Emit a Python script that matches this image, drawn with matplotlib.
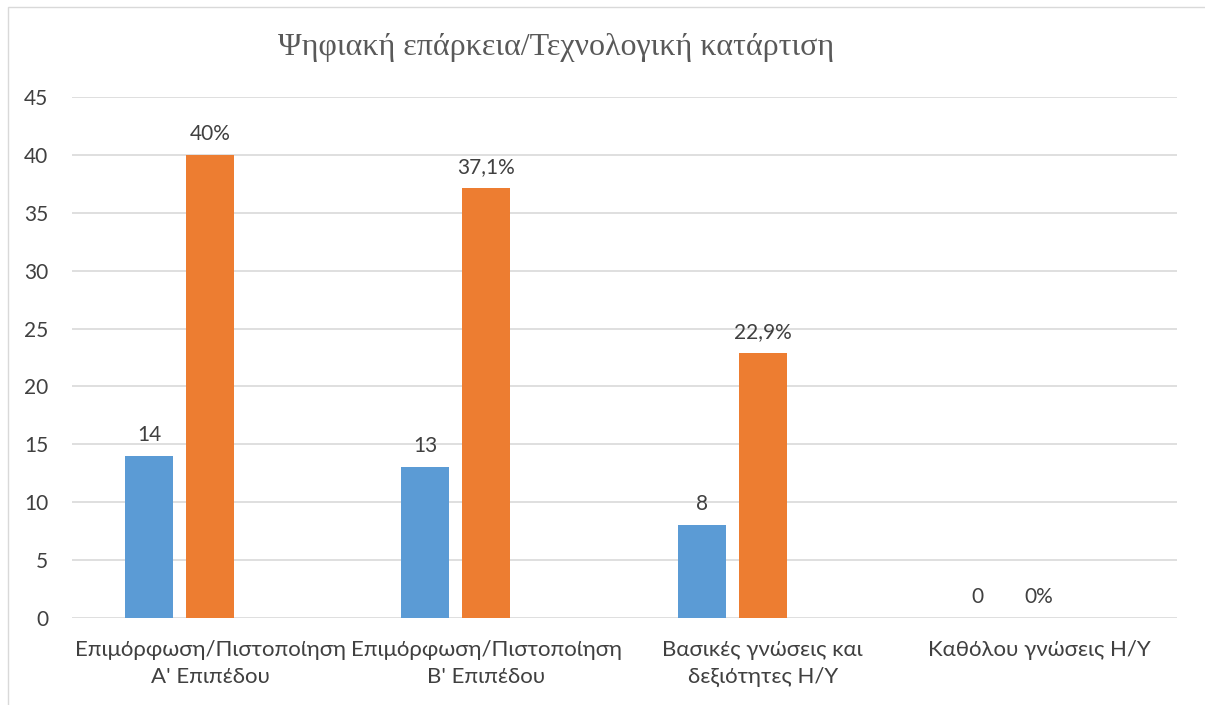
import numpy as np
import matplotlib
matplotlib.use("Agg")
import matplotlib.pyplot as plt
from matplotlib.patches import Rectangle

# chart data
categories = ["Επιμόρφωση/Πιστοποίηση\nΑ' Επιπέδου",
              "Επιμόρφωση/Πιστοποίηση\nΒ' Επιπέδου",
              "Βασικές γνώσεις και\nδεξιότητες Η/Υ",
              "Καθόλου γνώσεις Η/Υ"]
counts = [14, 13, 8, 0]
percents = [40, 37.1, 22.9, 0]
count_labels = ["14", "13", "8", "0"]
percent_labels = ["40%", "37,1%", "22,9%", "0%"]
yticks = [0, 5, 10, 15, 20, 25, 30, 35, 40, 45]

W, H = 1205, 705
plt.rcParams['font.family'] = ['Lato', 'DejaVu Sans']
fig = plt.figure(figsize=(W / 100, H / 100), dpi=100)

# light outer frame (top and left visible)
fig.patches.append(Rectangle((8 / W, -0.1), 1.2, 1 - 7 / H + 0.1,
                             transform=fig.transFigure, fill=False,
                             edgecolor="#d9d9d9", linewidth=1))

ax = fig.add_axes([72 / W, 1 - 618 / H, (1177 - 72) / W, (618 - 97) / H])

x = np.arange(len(categories)) + 0.5
bw = 48 / 276.25
step = 61 / 276.25
blue, orange = "#5B9BD5", "#ED7D31"
text_col = "#404040"
fs = 15

ax.bar(x - step, counts, bw, color=blue, zorder=3)
ax.bar(x, percents, bw, color=orange, zorder=3)

for xi, v, lab in zip(x - step, counts, count_labels):
    ax.annotate(lab, (xi, v), xytext=(0, 8), textcoords="offset points",
                ha="center", va="bottom", fontsize=fs, color=text_col)
for xi, v, lab in zip(x, percents, percent_labels):
    ax.annotate(lab, (xi, v), xytext=(0, 8), textcoords="offset points",
                ha="center", va="bottom", fontsize=fs, color=text_col)

ax.set_xlim(0, len(categories))
ax.set_ylim(0, 45)
ax.set_yticks(yticks)
ax.set_xticks(x)
ax.set_xticklabels(categories, fontsize=16, color=text_col, linespacing=1.4)
ax.tick_params(axis="y", length=0, pad=17, labelsize=fs, labelcolor=text_col)
ax.tick_params(axis="x", length=0, pad=16)
ax.grid(axis="y", color="#d9d9d9", linewidth=1.2, zorder=0)
for s in ax.spines.values():
    s.set_visible(False)

fig.text(556 / W, 1 - 48 / H, "Ψηφιακή επάρκεια/Τεχνολογική κατάρτιση",
         ha="center", va="center", fontsize=23, color="#595959",
         family="Liberation Serif")

fig.savefig("out.png", dpi=100)
